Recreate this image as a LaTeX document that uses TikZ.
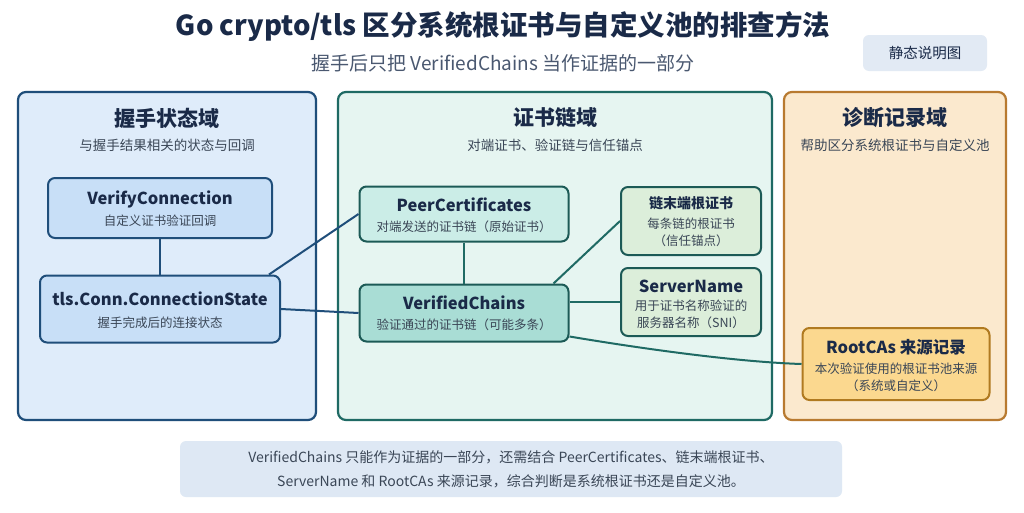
\documentclass[tikz,border=0pt]{standalone}
\usepackage{fontspec}
\setmainfont{Noto Sans CJK SC}
\definecolor{navy}{HTML}{1F4E7A}\definecolor{teal}{HTML}{1F6A64}\definecolor{brown}{HTML}{B87A30}
\definecolor{ink}{HTML}{1A2A48}\definecolor{gtext}{HTML}{3A4656}
\definecolor{subc}{HTML}{4A5870}\definecolor{tagf}{HTML}{E2EAF4}
\definecolor{p1f}{HTML}{DFECFA}\definecolor{p2f}{HTML}{E6F5F1}\definecolor{p3f}{HTML}{FBE9CE}
\definecolor{bluef}{HTML}{C8DFF7}\definecolor{tealb}{HTML}{1C5A56}\definecolor{pcf}{HTML}{CBEDE7}
\definecolor{vcf}{HTML}{A9DDD5}\definecolor{grf}{HTML}{DCEEDA}\definecolor{rcd}{HTML}{B07A20}
\definecolor{rcf}{HTML}{FBD88F}\definecolor{notef}{HTML}{DEE8F4}
\begin{document}
\begin{tikzpicture}[x=1pt,y=-1pt,
  panel/.style={rounded corners=8pt,line width=2.2pt},
  box/.style={rounded corners=7pt,line width=2pt,align=center,inner sep=0pt},
  link/.style={line width=2pt,draw=#1},
  ptitle/.style={font=\bfseries\fontsize{21}{23}\selectfont,text=ink},
  psub/.style={font=\fontsize{13.5}{15}\selectfont,text=gtext},
  bt/.style={font=\bfseries\fontsize{16.5}{18}\selectfont,text=ink},
  bs/.style={font=\fontsize{12.5}{17}\selectfont,text=gtext}]
\fill[white] (0,0) rectangle (1024,512);
\node[font=\bfseries\fontsize{27.5}{29}\selectfont,text=ink] (title) at (503,27) {Go crypto/tls 区分系统根证书与自定义池的排查方法};
\node[font=\fontsize{19}{21}\selectfont,text=subc] (sub) at (503,63) {握手后只把 VerifiedChains 当作证据的一部分};
\node[fill=tagf,rounded corners=6pt,minimum width=124pt,minimum height=36pt,font=\fontsize{14.5}{16}\selectfont,text=ink] (tag) at (925,53) {静态说明图};
% panels
\draw[panel,draw=navy,fill=p1f] (18,92) rectangle (316,420);
\draw[panel,draw=teal,fill=p2f] (338,92) rectangle (772,420);
\draw[panel,draw=brown,fill=p3f] (784,92) rectangle (1006,420);
\node[ptitle] (t1) at (167,118) {握手状态域};
\node[psub] (s1) at (167,145) {与握手结果相关的状态与回调};
\node[ptitle] (t2) at (555,118) {证书链域};
\node[psub] (s2) at (555,145) {对端证书、验证链与信任锚点};
\node[ptitle] (t3) at (895,118) {诊断记录域};
\node[psub] (s3) at (895,145) {帮助区分系统根证书与自定义池};
% boxes
\node[box,draw=navy,fill=bluef,minimum width=224pt,minimum height=60pt] (vc) at (160,208) {};
\node[bt] at (160,199) {VerifyConnection};\node[bs] at (160,221) {自定义证书验证回调};
\node[box,draw=navy,fill=bluef,minimum width=240pt,minimum height=67pt] (cs) at (160,309) {};
\node[bt] at (160,299) {tls.Conn.ConnectionState};\node[bs] at (160,323) {握手完成后的连接状态};
\node[box,draw=tealb,fill=pcf,minimum width=209pt,minimum height=55pt] (pc) at (464,214) {};
\node[bt] at (464,205) {PeerCertificates};\node[bs] at (464,227) {对端发送的证书链（原始证书）};
\node[box,draw=tealb,fill=vcf,minimum width=209pt,minimum height=57pt] (vch) at (464,313) {};
\node[bt] at (464,303) {VerifiedChains};\node[bs] at (464,325) {验证通过的证书链（可能多条）};
\node[box,draw=tealb,fill=grf,minimum width=140pt,minimum height=68pt] (root) at (691,221) {};
\node[font=\bfseries\fontsize{14}{16}\selectfont,text=ink] at (691,203) {链末端根证书};
\node[bs,align=center] at (691,232) {每条链的根证书\\（信任锚点）};
\node[box,draw=tealb,fill=grf,minimum width=140pt,minimum height=68pt] (sn) at (691,302) {};
\node[bt] at (691,286) {ServerName};
\node[bs,align=center] at (691,314) {用于证书名称验证的\\服务器名称（SNI）};
\node[box,draw=rcd,fill=rcf,minimum width=187pt,minimum height=72pt] (rc) at (896,364) {};
\node[bt] at (896,347) {RootCAs 来源记录};
\node[bs,align=center] at (896,377) {本次验证使用的根证书池来源\\（系统或自定义）};
% links
\draw[link=navy] (vc.south) -- (cs.north);
\draw[link=navy] (cs.north east) ++(-12,0) coordinate (a1) -- (pc.west);
\draw[link=navy] (cs.east) -- (vch.west);
\draw[link=teal] (pc.south) -- (vch.north);
\draw[link=teal] (vch.north east) ++(-16,0) coordinate (a2) -- (root.west);
\draw[link=teal] (vch.east |- sn.west) -- (sn.west);
\draw[link=teal] (vch.south east) ++(0,-6) coordinate (a3) .. controls (650,350) and (740,362) .. (rc.west);
% note
\node[fill=notef,rounded corners=6pt,minimum width=662pt,minimum height=56pt,align=center,font=\fontsize{14}{24}\selectfont,text=gtext] (note) at (511,469) {VerifiedChains 只能作为证据的一部分，还需结合 PeerCertificates、链末端根证书、\\ServerName 和 RootCAs 来源记录，综合判断是系统根证书还是自定义池。};
\end{tikzpicture}
\end{document}
